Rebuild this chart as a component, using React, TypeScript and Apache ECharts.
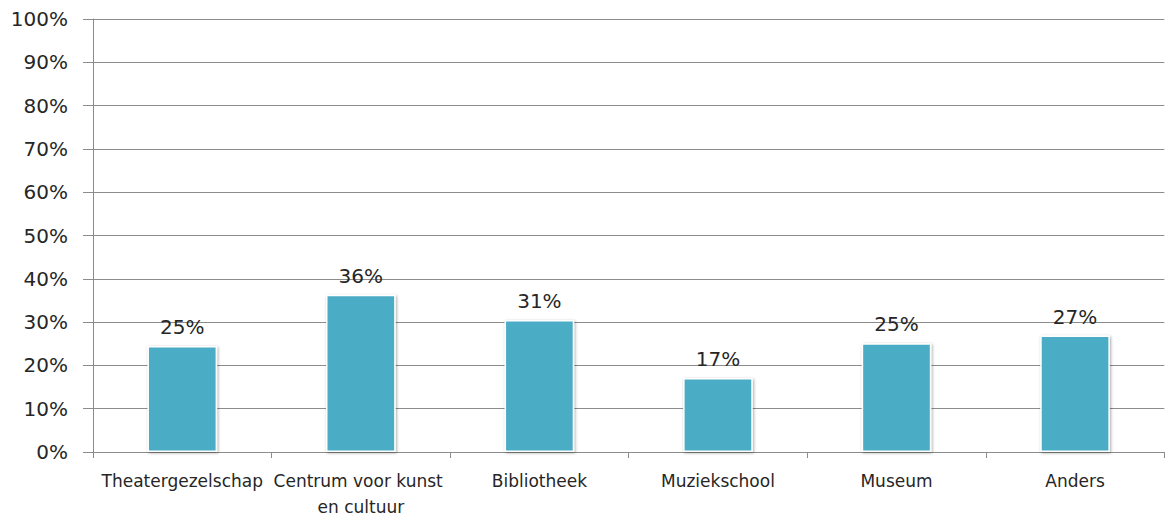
import React, { useEffect, useRef } from "react";
import * as echarts from "echarts";

const categories = [
  "Theatergezelschap",
  "Centrum voor kunst en cultuur",
  "Bibliotheek",
  "Muziekschool",
  "Museum",
  "Anders",
];
const values = [24.5, 36.3, 30.5, 17.1, 25.1, 26.9];
const yTicks = [0, 10, 20, 30, 40, 50, 60, 70, 80, 90, 100];

export default function App() {
  const ref = useRef<HTMLDivElement>(null);
  useEffect(() => {
    if (!ref.current) return;
    const chart = echarts.init(ref.current, null, { renderer: "svg" });
    const font = "'DejaVu Sans', sans-serif";
    chart.setOption({
      animation: false,
      backgroundColor: "#ffffff",
      grid: { left: 93, right: 2, top: 19, bottom: 64, containLabel: false },
      xAxis: {
        type: "category",
        data: categories,
        axisLine: { show: true, lineStyle: { color: "#8c8c8c", width: 1 } },
        axisTick: { show: true, length: 6, lineStyle: { color: "#8c8c8c" } },
        axisLabel: {
          color: "#262626",
          fontFamily: font,
          fontSize: 17,
          margin: 16,
          lineHeight: 26,
          width: 178,
          overflow: "break",
          interval: 0,
        },
        splitLine: { show: false },
      },
      yAxis: {
        type: "value",
        min: yTicks[0],
        max: yTicks[yTicks.length - 1],
        interval: 10,
        axisLine: { show: true, lineStyle: { color: "#8c8c8c", width: 1 } },
        axisTick: { show: true, length: 10, lineStyle: { color: "#8c8c8c" } },
        axisLabel: {
          color: "#262626",
          fontFamily: font,
          fontSize: 20,
          margin: 25,
          formatter: (v: number) => `${v}%`,
        },
        splitLine: { show: true, lineStyle: { color: "#8c8c8c", width: 1 } },
      },
      series: [
        {
          type: "bar",
          data: values,
          barWidth: "39%",
          itemStyle: {
            color: "#4BACC6",
            borderColor: "#ffffff",
            borderWidth: 1.5,
            shadowBlur: 3,
            shadowColor: "rgba(0,0,0,0.35)",
            shadowOffsetX: 1,
            shadowOffsetY: 1,
          },
          label: {
            show: true,
            position: "top",
            distance: 9,
            color: "#262626",
            fontFamily: font,
            fontSize: 20,
            formatter: (p: any) => `${Math.round(p.value)}%`,
          },
        },
      ],
    });
    return () => chart.dispose();
  }, []);
  return (
    <div
      ref={ref}
      style={{ position: "fixed", left: 0, top: 0, width: 1167, height: 520 }}
    />
  );
}
